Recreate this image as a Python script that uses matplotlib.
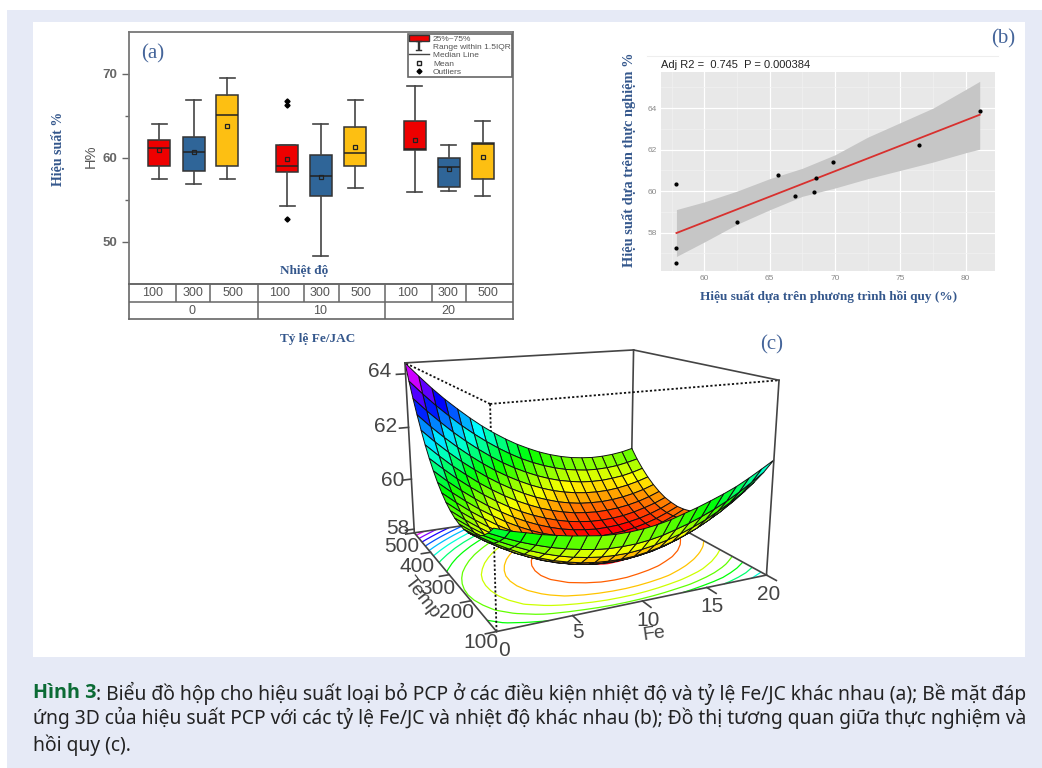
import numpy as np
import matplotlib
matplotlib.use('Agg')
import matplotlib.pyplot as plt
from matplotlib.lines import Line2D
from matplotlib.patches import Patch, Rectangle

plt.rcParams['font.family'] = ['Liberation Sans', 'DejaVu Sans']

W, H = 1042, 768
BLUE = '#34578c'
SERIF = 'Liberation Serif'

# panel a: boxes
temps = ['100', '300', '500'] * 3
ratios = ['0', '10', '20']
whislo = [57.5, 56.9, 57.5, 54.3, 48.35, 56.4, 55.9, 56.1, 55.5]
q1 = [59.0, 58.4, 59.0, 58.3, 55.45, 59.0, 60.9, 56.5, 57.5]
med = [61.2, 60.7, 65.1, 59.05, 57.85, 60.55, 61.1, 58.9, 61.65]
q3 = [62.1, 62.5, 67.5, 61.5, 60.3, 63.75, 64.4, 60.0, 61.75]
whishi = [64.1, 66.9, 69.5, 61.5, 64.0, 66.9, 68.6, 61.6, 64.4]
means = [61.0, 60.75, 63.8, 59.9, 57.75, 61.35, 62.15, 58.7, 60.15]
fliers = [[], [], [], [66.8, 66.3, 52.7], [], [], [], [], []]
box_colors = ['#ee0000', '#2f6598', '#fdbf12'] * 3
box_x = [30, 64.7, 98, 158, 191.7, 226, 285.7, 319.7, 353.7]
cell_x = [24, 64, 104.3, 151, 191, 231.7, 279, 319, 359.3]
cell_edges = [47.3, 81.3, 128.7, 174.7, 209.7, 255.7, 303, 336.7]
ratio_x = [63.3, 191, 319]
ratio_edges = [128.7, 255.7]

# panel b: scatter and regression
pred = [57.86, 57.86, 57.86, 62.53, 65.61, 66.96, 68.37, 68.55, 69.82, 76.45, 81.07]
obs = [60.35, 57.27, 56.55, 58.53, 60.76, 59.76, 59.97, 60.65, 61.39, 62.24, 63.87]
fit_x = [57.86, 81.07]
fit_y = [57.98, 63.68]
band_x = [57.86, 60, 62.5, 65, 67.5, 70, 72.5, 75, 77.5, 80, 81.07]
band_hi = [59.11, 59.48, 60.0, 60.6, 61.1, 61.75, 62.6, 63.3, 64.0, 64.9, 65.29]
band_lo = [56.85, 57.55, 58.4, 59.1, 59.75, 60.15, 60.6, 61.0, 61.4, 61.85, 62.02]

# panel c: surface heights, rows Temp 100 to 500, columns Fe 0 to 20
fe = list(range(21))
temp = list(range(100, 501, 20))
height = [
    [60.95, 60.79, 60.67, 60.54, 60.44, 60.35, 60.28, 60.21, 60.18, 60.18, 60.21, 60.27, 60.36, 60.49, 60.62, 60.77, 60.93, 61.11, 61.33, 61.57, 61.82],
    [60.66, 60.44, 60.24, 60.07, 59.92, 59.80, 59.70, 59.62, 59.57, 59.56, 59.57, 59.62, 59.70, 59.82, 59.95, 60.11, 60.29, 60.50, 60.74, 61.01, 61.30],
    [60.44, 60.18, 59.95, 59.74, 59.56, 59.41, 59.29, 59.20, 59.14, 59.11, 59.11, 59.15, 59.22, 59.32, 59.45, 59.61, 59.79, 60.01, 60.25, 60.53, 60.84],
    [60.27, 59.97, 59.71, 59.47, 59.27, 59.10, 58.97, 58.86, 58.79, 58.75, 58.74, 58.76, 58.82, 58.91, 59.03, 59.18, 59.36, 59.58, 59.82, 60.10, 60.41],
    [60.15, 59.84, 59.56, 59.31, 59.10, 58.92, 58.77, 58.65, 58.57, 58.51, 58.49, 58.50, 58.55, 58.62, 58.73, 58.87, 59.04, 59.24, 59.47, 59.74, 60.04],
    [60.07, 59.75, 59.46, 59.20, 58.98, 58.78, 58.62, 58.49, 58.39, 58.32, 58.29, 58.29, 58.32, 58.38, 58.47, 58.60, 58.76, 58.95, 59.17, 59.42, 59.71],
    [60.04, 59.71, 59.41, 59.13, 58.90, 58.69, 58.51, 58.37, 58.26, 58.18, 58.13, 58.12, 58.13, 58.18, 58.26, 58.38, 58.52, 58.70, 58.91, 59.15, 59.42],
    [60.06, 59.71, 59.40, 59.11, 58.86, 58.64, 58.45, 58.30, 58.17, 58.08, 58.02, 57.99, 58.00, 58.03, 58.10, 58.20, 58.33, 58.50, 58.69, 58.92, 59.18],
    [60.12, 59.76, 59.43, 59.13, 58.87, 58.64, 58.44, 58.27, 58.13, 58.03, 57.95, 57.91, 57.91, 57.93, 57.98, 58.07, 58.19, 58.34, 58.53, 58.74, 58.99],
    [60.23, 59.85, 59.51, 59.20, 58.93, 58.68, 58.47, 58.29, 58.14, 58.02, 57.93, 57.88, 57.86, 57.87, 57.91, 57.99, 58.09, 58.23, 58.40, 58.60, 58.84],
    [60.38, 59.99, 59.64, 59.32, 59.03, 58.77, 58.54, 58.35, 58.19, 58.06, 57.96, 57.89, 57.86, 57.85, 57.88, 57.95, 58.04, 58.17, 58.32, 58.51, 58.74],
    [60.58, 60.18, 59.81, 59.48, 59.17, 58.90, 58.66, 58.46, 58.28, 58.14, 58.03, 57.95, 57.90, 57.89, 57.90, 57.95, 58.03, 58.15, 58.29, 58.47, 58.68],
    [60.82, 60.41, 60.03, 59.68, 59.37, 59.08, 58.83, 58.61, 58.42, 58.27, 58.14, 58.05, 57.99, 57.96, 57.97, 58.00, 58.07, 58.17, 58.30, 58.47, 58.66],
    [61.11, 60.68, 60.29, 59.93, 59.60, 59.31, 59.04, 58.81, 58.61, 58.44, 58.30, 58.20, 58.13, 58.08, 58.08, 58.10, 58.16, 58.24, 58.36, 58.51, 58.70],
    [61.44, 61.01, 60.60, 60.23, 59.89, 59.58, 59.30, 59.05, 58.84, 58.66, 58.51, 58.39, 58.31, 58.25, 58.23, 58.24, 58.28, 58.36, 58.47, 58.60, 58.77],
    [61.82, 61.37, 60.95, 60.57, 60.21, 59.89, 59.60, 59.34, 59.12, 58.92, 58.76, 58.63, 58.53, 58.47, 58.43, 58.43, 58.46, 58.52, 58.61, 58.74, 58.90],
    [62.25, 61.78, 61.35, 60.95, 60.59, 60.25, 59.95, 59.68, 59.44, 59.23, 59.06, 58.91, 58.80, 58.72, 58.68, 58.66, 58.68, 58.73, 58.81, 58.92, 59.07],
    [62.72, 62.24, 61.80, 61.39, 61.01, 60.66, 60.34, 60.06, 59.81, 59.59, 59.40, 59.24, 59.12, 59.03, 58.97, 58.94, 58.94, 58.98, 59.05, 59.15, 59.28],
    [63.23, 62.74, 62.29, 61.86, 61.47, 61.11, 60.78, 60.48, 60.22, 59.99, 59.79, 59.62, 59.48, 59.38, 59.30, 59.26, 59.25, 59.28, 59.33, 59.42, 59.54],
    [63.79, 63.29, 62.82, 62.39, 61.98, 61.61, 61.27, 60.96, 60.68, 60.43, 60.22, 60.04, 59.89, 59.77, 59.69, 59.63, 59.61, 59.62, 59.66, 59.74, 59.84],
    [64.40, 63.89, 63.40, 62.95, 62.54, 62.15, 61.79, 61.47, 61.18, 60.92, 60.70, 60.50, 60.34, 60.21, 60.11, 60.05, 60.01, 60.01, 60.04, 60.10, 60.20],
]
contour_levels = [58, 58.5, 59, 59.5, 60, 60.5, 61, 61.5, 62, 62.5, 63, 63.5, 64]
z_ticks = [58, 60, 62, 64]
z_label_pos = [(398, 529), (393, 480), (386, 427), (380, 371)]
temp_ticks = [100, 200, 300, 400, 500]
temp_label_pos = [(481, 643), (457, 613), (438, 588), (417, 567), (402, 547)]
fe_ticks = [5, 10, 15, 20]
fe_label_pos = [(578, 633), (648, 620), (712, 607), (769, 595)]

caption_bold = 'Hình 3'
caption_1 = ': Biểu đồ hộp cho hiệu suất loại bỏ PCP ở các điều kiện nhiệt độ và tỷ lệ Fe/JC khác nhau (a); Bề mặt đáp'
caption_2 = 'ứng 3D của hiệu suất PCP với các tỷ lệ Fe/JC và nhiệt độ khác nhau (b); Đồ thị tương quan giữa thực nghiệm và'
caption_3 = 'hồi quy (c).'


def rect(l, t, r, b):
    return [l / W, 1 - b / H, (r - l) / W, (b - t) / H]


def label(x, y, s, **kw):
    kw.setdefault('ha', 'center')
    kw.setdefault('va', 'center')
    return fig.text(x / W, 1 - y / H, s, **kw)


fig = plt.figure(figsize=(W / 100, H / 100), dpi=100, facecolor='white')
fig.add_artist(Rectangle((7 / W, 0), 1 - 7 / W, 1 - 10 / H, transform=fig.transFigure, fc='#e6eaf6', ec='none', zorder=-20))
fig.add_artist(Rectangle((33 / W, 1 - 657 / H), 992 / W, 635 / H, transform=fig.transFigure, fc='white', ec='none', zorder=-19))

# (a) box plot
ax = fig.add_axes(rect(129, 32, 513, 284))
stats = []
for i in range(9):
    stats.append(dict(whislo=whislo[i], q1=q1[i], med=med[i], q3=q3[i], whishi=whishi[i], mean=means[i], fliers=fliers[i]))
parts = ax.bxp(stats, positions=box_x, widths=22, capwidths=15, patch_artist=True, showmeans=True,
               boxprops=dict(edgecolor='#333333', lw=1.1),
               medianprops=dict(color='#222222', lw=1.1),
               whiskerprops=dict(color='#444444', lw=1.2),
               capprops=dict(color='#444444', lw=1.2),
               meanprops=dict(marker='s', ms=3, mfc='none', mec='#222222', mew=0.9),
               flierprops=dict(marker='D', ms=2.6, mfc='black', mec='black'))
for b, c in zip(parts['boxes'], box_colors):
    b.set_facecolor(c)
ax.set_xlim(0, 384)
ax.set_ylim(45, 75)
ax.set_xticks([])
ax.set_yticks([50, 60, 70])
ax.set_yticks([55, 65], minor=True)
ax.tick_params(axis='y', which='major', length=5, width=1, color='#666666', labelcolor='#666666', labelsize=9.5)
ax.tick_params(axis='y', which='minor', length=3, width=1, color='#666666')
for s in ax.spines.values():
    s.set_color('#777777')
    s.set_linewidth(1.3)
for t in ax.get_yticklabels():
    t.set_fontweight('bold')

handles = [Patch(fc='#ee0000', ec='#333333'),
           Line2D([], [], marker='$\\mathtt{I}$', ms=7, ls='none', color='#333333', mew=0.3),
           Line2D([], [], color='#444444', lw=1),
           Line2D([], [], marker='s', ms=2.5, ls='none', mfc='none', mec='#222222'),
           Line2D([], [], marker='D', ms=2.5, ls='none', color='black')]
leg = ax.legend(handles, ['25%~75%', 'Range within 1.5IQR', 'Median Line', 'Mean', 'Outliers'],
                loc='upper left', bbox_to_anchor=((408 - 129) / 384, 1 - 2 / 252), borderaxespad=0,
                fontsize=6, labelspacing=0.06, borderpad=0.1, handlelength=2.4, handleheight=0.7,
                handletextpad=0.5, fancybox=False, framealpha=1, edgecolor='#666666',
                labelcolor='#555555')
leg.get_frame().set_linewidth(1.2)

# table under (a)
tb = fig.add_axes(rect(129, 284, 513, 319))
tb.set_xlim(0, 384)
tb.set_ylim(0, 2)
tb.set_xticks([])
tb.set_yticks([])
tb.patch.set_alpha(0)
for s in tb.spines.values():
    s.set_color('#666666')
    s.set_linewidth(1.2)
tb.axhline(0.95, color='#666666', lw=1.1)
tb.vlines(cell_edges, 0.95, 2, color='#666666', lw=1.1)
tb.vlines(ratio_edges, 0, 0.95, color='#666666', lw=1.1)
for x, s in zip(cell_x, temps):
    tb.text(x, 1.47, s, ha='center', va='center', fontsize=9, color='#555555')
for x, s in zip(ratio_x, ratios):
    tb.text(x, 0.47, s, ha='center', va='center', fontsize=9, color='#555555')

label(153, 54, '(a)', family=SERIF, fontsize=15, color='#45659a')
label(58, 149, 'Hiệu suất %', family=SERIF, fontsize=10, weight='bold', color=BLUE, rotation=90)
label(91, 156, 'H%', fontsize=10.5, color='#555555', rotation=90)
label(304, 271, 'Nhiệt độ', family=SERIF, fontsize=9.5, weight='bold', color=BLUE)
label(318, 339, 'Tỷ lệ Fe/JAC', family=SERIF, fontsize=9.5, weight='bold', color=BLUE)

# (b) regression
bx = fig.add_axes(rect(661, 72, 995, 271))
bx.set_facecolor('#e8e8e8')
bx.fill_between(band_x, band_lo, band_hi, color='#c6c6c6', lw=0, zorder=2)
bx.plot(fit_x, fit_y, color='#d8302e', lw=1.3, zorder=3)
bx.scatter(pred, obs, s=4, color='black', zorder=4)
bx.set_xlim(56.68, 82.24)
bx.set_ylim(56.15, 65.74)
bx.set_xticks([60, 65, 70, 75, 80])
bx.set_yticks([58, 60, 62, 64])
bx.set_xticks([57.5, 62.5, 67.5, 72.5, 77.5], minor=True)
bx.set_yticks([57, 59, 61, 63, 65], minor=True)
bx.grid(which='major', color='white', lw=0.9, zorder=1)
bx.grid(which='minor', color='#f2f2f2', lw=0.5, zorder=1)
bx.set_axisbelow(True)
bx.tick_params(which='both', length=0)
bx.tick_params(labelsize=6, labelcolor='#8a8a8a', pad=3)
for s in bx.spines.values():
    s.set_visible(False)
fig.add_artist(Line2D([647 / W, 998 / W], [1 - 56 / H] * 2, color='#eeeeee', lw=0.8))
label(661, 65, 'Adj R2 =  0.745  P = 0.000384', fontsize=8, color='#222222', ha='left')
label(1003, 39, '(b)', family=SERIF, fontsize=15, color='#45659a')
label(629, 160, 'Hiệu suất dựa trên thực nghiệm %', family=SERIF, fontsize=10.4, weight='bold', color=BLUE, rotation=90)
label(829, 297, 'Hiệu suất dựa trên phương trình hồi quy (%)', family=SERIF, fontsize=9.5, weight='bold', color=BLUE)
label(771.5, 345, '(c)', family=SERIF, fontsize=15, color='#45659a')

# (c) surface; view fitted to the corners of the box
s3 = 2224.867 * 0.185
cx = fig.add_axes(rect(366.52, H - 92.25 - s3, 366.52 + s3, H - 92.25), projection='3d', computed_zorder=False)
cx.patch.set_alpha(0)
X, Y = np.meshgrid(fe, temp)
Z = np.array(height)
z0, z1 = Z.min(), Z.max()
f0, f1, t0, t1 = fe[0], fe[-1], temp[0], temp[-1]
cx.contour(X, Y, Z, levels=contour_levels, zdir='z', offset=z0, cmap='gist_rainbow', vmin=z0, vmax=z1, linewidths=0.9, zorder=1)
dotted = dict(color='#111111', lw=1.3, ls=(0, (1.2, 1.2)), zorder=2)
cx.plot([f0, f0], [t0, t0], [z0, z1], **dotted)
cx.plot([f0, f0], [t0, t1], [z1, z1], **dotted)
cx.plot([f0, f1], [t0, t0], [z1, z1], **dotted)
solid = dict(color='#444444', lw=1.2, zorder=1)
cx.plot([f1, f1], [t1, t1], [z0, z1], **solid)
cx.plot([f1, f1], [t0, t1], [z0, z0], **solid)
cx.plot([f0, f1], [t1, t1], [z0, z0], **solid)
cx.plot_surface(X, Y, Z, rstride=1, cstride=1, cmap='gist_rainbow', vmin=z0, vmax=z1, edgecolor='#111111',
                linewidth=0.7, shade=False, zorder=3)
top = dict(color='#444444', lw=1.2, zorder=4)
cx.plot([f0, f1], [t1, t1], [z1, z1], **top)
cx.plot([f1, f1], [t1, t0], [z1, z1], **top)
cx.plot([f0, f0], [t1, t1], [z0, z1], **top)
cx.plot([f1, f1], [t0, t0], [z0, z1], **top)
cx.plot([f0, f0], [t0, t1], [z0, z0], **top)
cx.plot([f0, f1], [t0, t0], [z0, z0], **top)
for z in z_ticks:
    cx.plot([f0, f0 - 0.7], [t1, t1], [z, z], **top)
for t in temp_ticks:
    cx.plot([f0, f0 - 0.7], [t, t], [z0, z0], **top)
for v in fe_ticks:
    cx.plot([v, v], [t0, t0 - 22], [z0, z0], **top)
cx.set_xlim(f0, f1)
cx.set_ylim(t0, t1)
cx.set_zlim(z0, z1)
cx.view_init(14.6757, 244.3778)
cx.set_proj_type('persp', focal_length=0.3570)
cx.set_box_aspect((1.4583, 1.4098, 1))
cx.set_axis_off()
for a in cx.get_children():
    a.set_clip_on(False)

for v, p in zip(z_ticks, z_label_pos):
    label(p[0], p[1], str(v), fontsize=15, color='#444444')
for v, p in zip(temp_ticks, temp_label_pos):
    label(p[0], p[1], str(v), fontsize=15, color='#444444')
for v, p in zip(fe_ticks, fe_label_pos):
    label(p[0], p[1], str(v), fontsize=15, color='#444444')
label(504, 650, '0', fontsize=15, color='#444444')
label(654, 634, 'Fe', fontsize=14, color='#444444', rotation=8)
label(422, 598, 'Temp', fontsize=14, color='#444444', rotation=-52)

# caption
cap = dict(family='Noto Sans', fontsize=13.9, color='#222222')
b = label(33, 693, caption_bold, ha='left', family='Open Sans', fontsize=14.2, weight='bold', color='#0b6b35')
fig.canvas.draw()
ext = b.get_window_extent()
label(ext.x1, 693, caption_1, ha='left', **cap)
label(33, 718, caption_2, ha='left', **cap)
label(33, 745, caption_3, ha='left', **cap)

fig.savefig('out.png', dpi=100, facecolor='white')
